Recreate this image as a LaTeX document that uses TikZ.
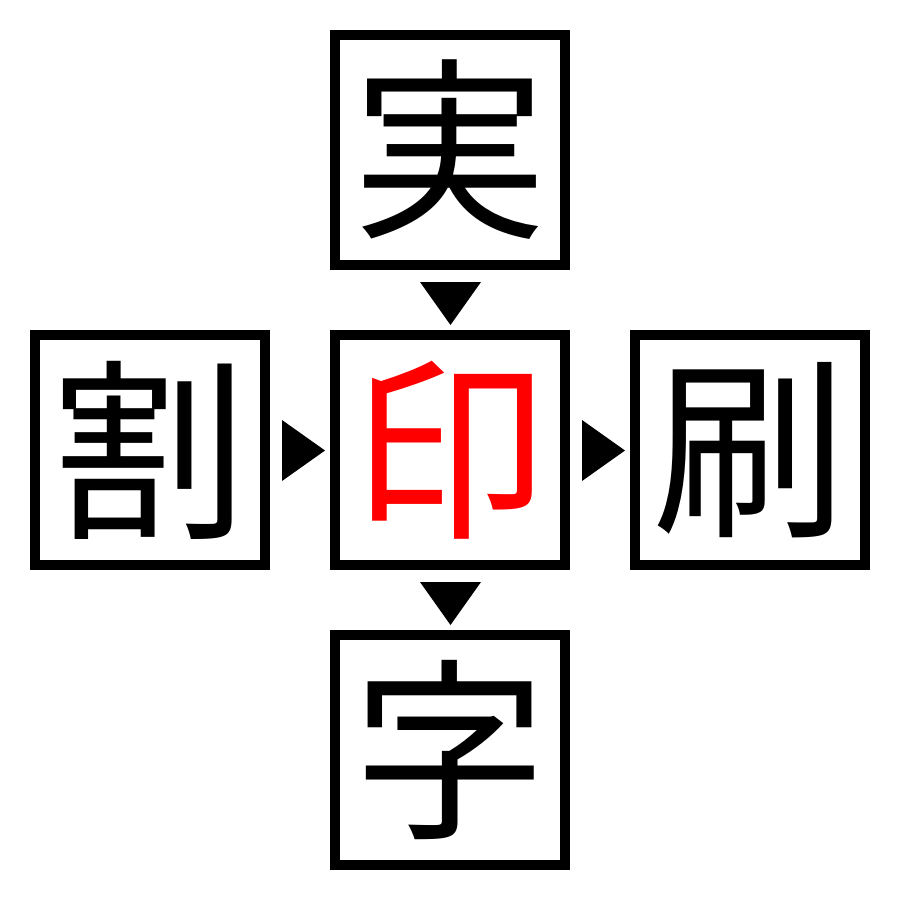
\documentclass[tikz,border=0pt]{standalone}
\usepackage{fontspec}
\newfontfamily\cjk{Noto Sans CJK JP}
\begin{document}
\begin{tikzpicture}[x=1pt,y=-1pt,
  cbox/.style={draw=black,line width=10pt,minimum width=230pt,minimum height=230pt,inner sep=0pt,font=\cjk\fontsize{195}{195}\selectfont},
  tri/.style={fill=black,draw=none}]
\useasboundingbox (0,0) rectangle (900,900);
\node[cbox] (top) at (450,150) {実};
\node[cbox] (left) at (150,450) {割};
\node[cbox,text=red] (mid) at (450,450) {印};
\node[cbox] (right) at (750,450) {刷};
\node[cbox] (bot) at (450,750) {字};
\fill[tri] (420,282) -- (481,282) -- (450.5,325) -- cycle;
\fill[tri] (420,582) -- (481,582) -- (450.5,625) -- cycle;
\fill[tri] (282,420) -- (282,481) -- (325,450.5) -- cycle;
\fill[tri] (582,420) -- (582,481) -- (625,450.5) -- cycle;
\end{tikzpicture}
\end{document}
